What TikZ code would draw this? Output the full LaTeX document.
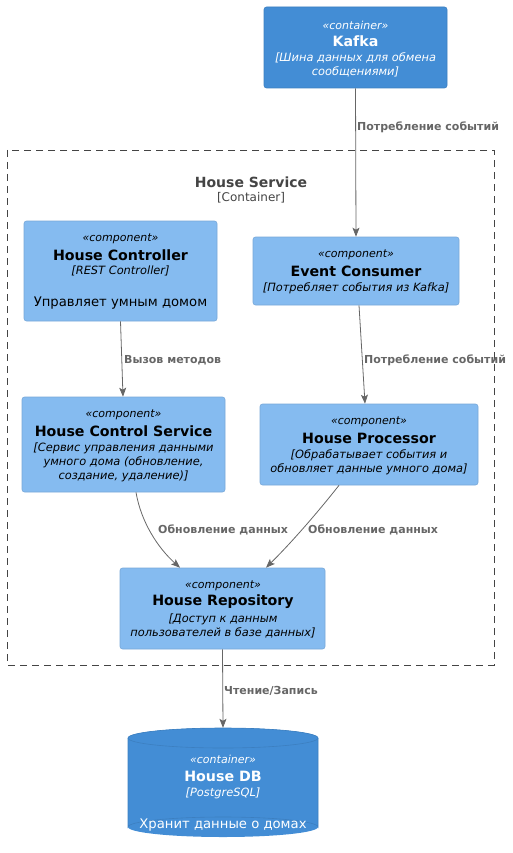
\documentclass[tikz,border=0pt]{standalone}
\usepackage{fontspec}
\setmainfont{DejaVu Sans}
\usetikzlibrary{arrows.meta}
\definecolor{contfill}{HTML}{438DD5}
\definecolor{contline}{HTML}{3C7FC0}
\definecolor{compfill}{HTML}{85BBF0}
\definecolor{compline}{HTML}{78A8D8}
\definecolor{relgray}{HTML}{666666}
\definecolor{bndgray}{HTML}{444444}
\newcommand{\fs}[1]{\fontsize{#1}{#1}\selectfont}
\tikzset{
  box/.style={draw, rounded corners=2.5pt, inner sep=0pt, line width=0.6pt},
  contbox/.style={box, fill=contfill, draw=contline},
  compbox/.style={box, fill=compfill, draw=compline},
  stereo/.style={inner sep=0pt, font=\fs{11}\itshape},
  ttl/.style={inner sep=0pt, font=\fs{14.2}\bfseries},
  desc/.style={inner sep=0pt, font=\fs{11.4}\itshape},
  body/.style={inner sep=0pt, font=\fs{13.2}},
  wtxt/.style={text=white},
  rel/.style={draw=relgray, line width=0.8pt, -{Stealth[length=9pt,width=7pt,inset=2pt]}},
  rlab/.style={inner sep=0pt, anchor=west, text=relgray, font=\fs{11}\bfseries},
}
\begin{document}
\begin{tikzpicture}[x=1pt,y=-1pt]
\useasboundingbox (0,0) rectangle (512,853);
% boundary
\draw[draw=bndgray, dash pattern=on 7pt off 5pt, line width=0.7pt] (7,150) rectangle (494,665);
\node[inner sep=0pt, text=bndgray, font=\fs{14}\bfseries] (bt) at (251,182) {House Service};
\node[inner sep=0pt, text=bndgray, font=\fs{12}] (bs) at (251,198) {[Container]};

% Kafka
\node[contbox, minimum width=183pt, minimum height=81pt] (kafka) at (355.5,47.5) {};
\node[stereo, wtxt] (k1) at (355.5,25) {«container»};
\node[ttl, wtxt] (k2) at (355.5,41) {Kafka};
\node[desc, wtxt] (k3) at (355.5,58) {[Шина данных для обмена};
\node[desc, wtxt] (k4) at (355.5,72) {сообщениями]};

% House Controller
\node[compbox, minimum width=193pt, minimum height=100pt] (hc) at (120.5,271) {};
\node[stereo] (hc1) at (120.5,239) {«component»};
\node[ttl] (hc2) at (120.5,255) {House Controller};
\node[desc] (hc3) at (120.5,271) {[REST Controller]};
\node[body] (hc4) at (120.5,303) {Управляет умным домом};

% Event Consumer
\node[compbox, minimum width=206pt, minimum height=68pt] (ec) at (356,271) {};
\node[stereo] (ec1) at (356,255) {«component»};
\node[ttl] (ec2) at (356,271) {Event Consumer};
\node[desc] (ec3) at (356,288) {[Потребляет события из Kafka]};

% House Control Service
\node[compbox, minimum width=203pt, minimum height=95pt] (hcs) at (123.5,444.5) {};
\node[stereo] (hcs1) at (123.5,415) {«component»};
\node[ttl] (hcs2) at (123.5,431) {House Control Service};
\node[desc] (hcs3) at (123.5,448) {[Сервис управления данными};
\node[desc] (hcs4) at (123.5,462) {умного дома (обновление,};
\node[desc] (hcs5) at (123.5,476) {создание, удаление)]};

% House Processor
\node[compbox, minimum width=218pt, minimum height=81pt] (hp) at (369,444.5) {};
\node[stereo] (hp1) at (369,422) {«component»};
\node[ttl] (hp2) at (369,438) {House Processor};
\node[desc] (hp3) at (369,455) {[Обрабатывает события и};
\node[desc] (hp4) at (369,469) {обновляет данные умного дома]};

% House Repository
\node[compbox, minimum width=205pt, minimum height=81pt] (hr) at (222.5,608.5) {};
\node[stereo] (hr1) at (223,586) {«component»};
\node[ttl] (hr2) at (223,602) {House Repository};
\node[desc] (hr3) at (223,619) {[Доступ к данным};
\node[desc] (hr4) at (223,633) {пользователей в базе данных]};

% House DB cylinder
\node[inner sep=0pt, minimum width=190pt, minimum height=109pt] (db) at (223,782.5) {};
\fill[contfill] (128,738) arc[start angle=180, end angle=360, x radius=95, y radius=10]
  -- (318,827) arc[start angle=0, end angle=180, x radius=95, y radius=10] -- cycle;
\fill[contfill] (223,738) ellipse[x radius=95, y radius=10];
\draw[contline, line width=0.6pt] (128,738) -- (128,827) arc[start angle=180, end angle=0, x radius=95, y radius=-10] -- (318,738);
\draw[contline, line width=0.6pt] (223,738) ellipse[x radius=95, y radius=10];
\node[stereo, wtxt] (db1) at (223,759) {«container»};
\node[ttl, wtxt] (db2) at (223,776) {House DB};
\node[desc, wtxt] (db3) at (223,793) {[PostgreSQL]};
\node[body, wtxt] (db4) at (223,825) {Хранит данные о домах};

% relations
\draw[rel] (kafka.south) -- (ec.north);
\node[rlab] (l1) at (357,127) {Потребление событий};
\draw[rel] (hc.south) -- ([xshift=-0.5pt]hcs.north);
\node[rlab] (l2) at (124,360) {Вызов методов};
\draw[rel] ([xshift=3pt]ec.south) -- ([xshift=-4pt]hp.north);
\node[rlab] (l3) at (364,360) {Потребление событий};
\draw[rel] ([xshift=12.5pt]hcs.south) .. controls (141,522) and (158,548) .. ([xshift=-42.5pt]hr.north);
\node[rlab] (l4) at (158,530) {Обновление данных};
\draw[rel] ([xshift=-30pt]hp.south) .. controls (318,512) and (292,542) .. ([xshift=43.5pt]hr.north);
\node[rlab] (l5) at (308,530) {Обновление данных};
\draw[rel] (hr.south) -- (db.north);
\node[rlab] (l6) at (224,691) {Чтение/Запись};
\end{tikzpicture}
\end{document}
